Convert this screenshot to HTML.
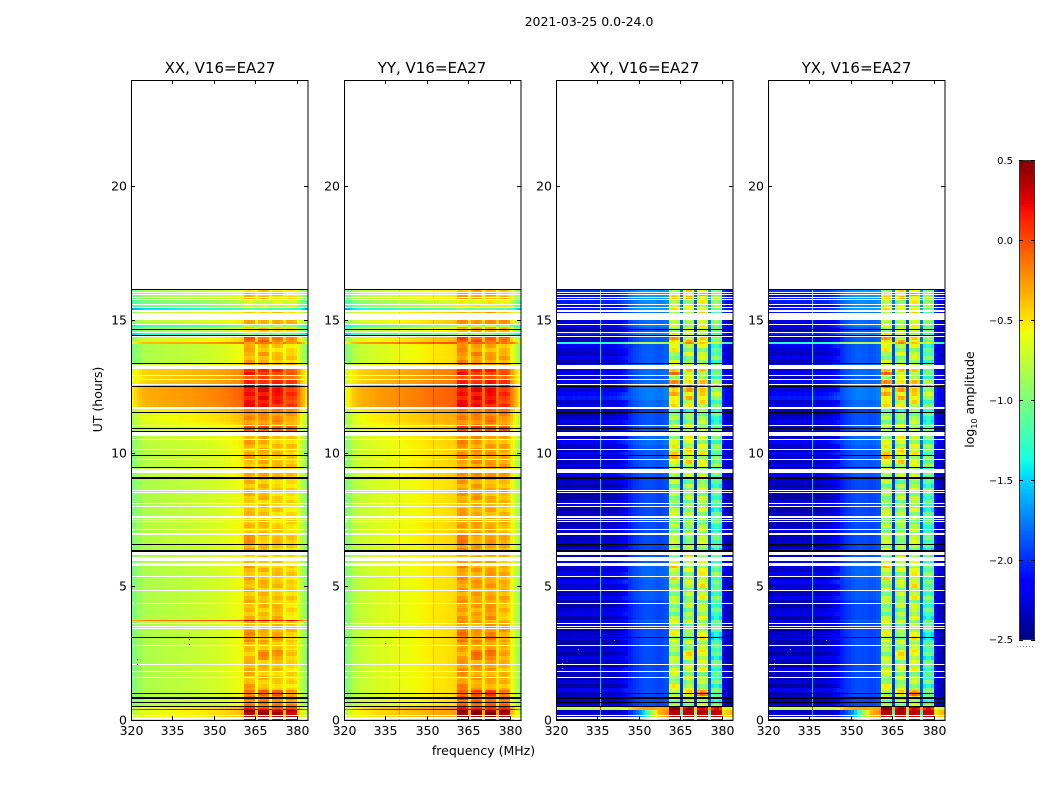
<!DOCTYPE html>
<html lang="en">
<head>
<meta charset="utf-8">
<title>2021-03-25 0.0-24.0</title>
<style>
html,body{margin:0;padding:0;background:#fff;}
svg{display:block;font-family:"DejaVu Sans","Liberation Sans",sans-serif;fill:#000;}
</style>
</head>
<body>
<svg id="fig" xmlns="http://www.w3.org/2000/svg" width="1050" height="800" viewBox="0 0 1050 800">
  <rect width="1050" height="800" fill="#fff"/>
  <text x="589" y="26" font-size="12.500" text-anchor="middle">2021-03-25 0.0-24.0</text>
  <text x="220" y="73" font-size="15" text-anchor="middle">XX, V16=EA27</text>
  <text x="432" y="73" font-size="15" text-anchor="middle">YY, V16=EA27</text>
  <text x="644.500" y="73" font-size="15" text-anchor="middle">XY, V16=EA27</text>
  <text x="856.500" y="73" font-size="15" text-anchor="middle">YX, V16=EA27</text>
  <text x="483.500" y="755" font-size="12.500" text-anchor="middle">frequency (MHz)</text>
  <text transform="translate(102,399.500) rotate(-90)" font-size="12.500" text-anchor="middle">UT (hours)</text>
  <text transform="translate(974,399.500) rotate(-90)" font-size="12.500" text-anchor="middle">log<tspan font-size="8" dy="3">10</tspan><tspan dy="-3"> amplitude</tspan></text>
  <g id="panels"></g>
  <g id="colorbar"></g>
</svg>
<script>
// Frequency channels (MHz, first edge of each 1 MHz channel)
const firstChannel = 320;
// Baseline log10 amplitude per channel, one array per polarisation
const specXX = [-1.02,-.96,-.91,-.88,-.84,-.82,-.81,-.81,-.8,-.8,-.79,-.79,-.78,-.78,-.77,-.77,-.77,-.76,-.76,-.75,-.75,-.75,-.74,-.73,-.73,-.72,-.72,-.71,-.7,-.7,-.69,-.68,-.67,-.66,-.65,-.64,-.62,-.61,-.6,-.58,-.55,-.41,-.39,-.41,-.43,-.58,-.45,-.41,-.41,-.45,-.6,-.47,-.43,-.43,-.47,-.58,-.49,-.47,-.47,-.52,-.64,-.75,-.85,-.98];
const specYY = [-1.0,-.95,-.88,-.82,-.78,-.75,-.73,-.72,-.71,-.7,-.69,-.68,-.67,-.66,-.65,-.65,-.64,-.63,-.63,-.62,-.62,-.61,-.6,-.59,-.58,-.57,-.57,-.56,-.55,-.54,-.53,-.52,-.52,-.51,-.5,-.5,-.49,-.48,-.48,-.47,-.46,-.32,-.3,-.32,-.36,-.5,-.37,-.32,-.32,-.36,-.52,-.36,-.32,-.32,-.36,-.5,-.39,-.36,-.36,-.42,-.56,-.66,-.78,-.92];
const specXY = [-2.28,-2.3,-2.28,-2.3,-2.32,-2.3,-2.28,-2.3,-2.28,-2.3,-2.28,-2.3,-2.28,-2.28,-2.3,-2.3,-2.28,-2.28,-2.28,-2.26,-2.26,-2.26,-2.22,-2.2,-2.16,-2.12,-2.05,-2.02,-1.98,-1.96,-1.93,-1.91,-1.9,-1.9,-1.9,-1.91,-1.93,-1.93,-1.92,-1.9,-1.88,-.92,-.85,-.9,-1.0,-2.0,-1.05,-.9,-.85,-1.0,-2.05,-.92,-.82,-.82,-.92,-1.9,-1.25,-1.12,-1.12,-1.28,-2.2,-2.3,-2.35,-2.35];
const specYX = [-2.3,-2.3,-2.3,-2.28,-2.3,-2.3,-2.3,-2.28,-2.3,-2.28,-2.3,-2.28,-2.3,-2.28,-2.3,-2.3,-2.28,-2.3,-2.28,-2.28,-2.26,-2.26,-2.22,-2.2,-2.16,-2.12,-2.05,-2.02,-1.98,-1.96,-1.93,-1.91,-1.9,-1.9,-1.91,-1.91,-1.93,-1.93,-1.92,-1.9,-1.88,-.92,-.85,-.9,-1.0,-2.0,-1.05,-.9,-.85,-1.0,-2.05,-.92,-.82,-.82,-.92,-1.9,-1.25,-1.12,-1.12,-1.28,-2.2,-2.3,-2.35,-2.35];
// Cross-hand spectrum in the bottom-most (0.0-0.36 h) scan
const crossBottom = [-2.3,-2.3,-2.3,-2.3,-2.3,-2.3,-2.3,-2.3,-2.3,-2.3,-2.3,-2.3,-2.3,-2.3,-2.3,-2.3,-2.3,-2.3,-2.3,-2.3,-2.3,-2.3,-2.3,-2.3,-2.2,-2.2,-2.0,-2.0,-1.9,-1.8,-1.7,-1.5,-1.3,-1.1,-.9,-.7,-.5,-.35,-.3,-.25,-.2,.35,.38,.38,.32,-1.2,.3,.38,.38,.3,-1.0,.3,.36,.36,.3,-1.3,.3,.34,.34,.3,-.5,-.45,-.4,-.35];
// Narrow single-frequency spurs (one pixel wide)
const spurPanel = [1,1,2,3];
const spurFreq = [340,352,336,336];
const spurValue = [-.38,-.36,-1.55,-1.55];
// Start channels of the four bright receiver bands
const bandStart = [361,366,371,376];
// Time segments: upper edge of each scan block in UT hours (descending)
const segTop = [16.13,15.79,15.46,15.34,15.0,14.81,14.74,14.52,14.36,14.16,14.10,13.80,13.35,13.16,12.94,12.75,12.56,12.48,12.0,11.66,11.51,11.18,11.03,10.81,10.65,10.31,9.53,9.26,9.04,8.25,7.5,6.94,6.56,6.30,5.81,5.25,4.5,3.75,3.71,3.38,2.93,2.63,2.25,1.80,1.50,1.13,0.79,0.47,0.43,0.36];
// Per-segment gain added to all channels
const parGainXX = [-.05,-.2,-.65,.05,.05,-.4,-.08,-.5,.12,.45,0,0,.08,.38,.36,.38,.38,.5,.48,.25,.2,.16,.1,.08,.05,.03,.03,.05,0,0,.02,.02,0,0,0,0,0,.65,0,0,0,0,0,0,0,0,0,.25,1.0,.2];
const parGainYY = [-.05,-.2,-.65,.05,.05,-.4,-.06,-.5,.1,.45,0,0,.08,.3,.28,.3,.3,.4,.4,.2,.15,.12,.08,.06,.04,.03,.03,.05,0,0,.02,.02,0,0,0,0,0,-.02,0,0,0,0,0,0,0,0,0,.25,.9,.2];
const crossGain = [.25,.2,.25,.15,.1,.15,.05,.2,.05,1.1,.05,.05,.1,.1,.05,.1,.3,.15,.1,-.05,.02,.02,.05,.05,.1,.05,.05,.05,0,0,0,0,0,.05,.08,.05,0,.1,0,0,0,0,0,0,0,0,0,1.6,1.6,0];
// Per-segment extra gain on each of the four bands
const parBand = [[.05,.05,.05,.05],[0,0,0,0],[-.1,-.1,-.1,-.1],[0,0,0,0],[.05,.05,.05,.05],[0,0,0,0],[.05,.05,.05,.05],[0,0,0,0],[.25,.2,.15,.1],[-.25,-.25,-.25,-.25],[.05,.05,0,0],[.1,.1,.05,.05],[.05,.05,.05,.05],[.15,.15,.12,.05],[.05,.05,.03,.03],[.15,.15,.15,.1],[.25,.25,.15,.2],[.1,.12,.12,.05],[.08,.1,.08,.05],[0,0,0,0],[-.03,0,.03,0],[0,0,0,0],[.25,.25,.25,.25],[.05,.05,.05,.05],[.05,.05,0,0],[.03,.03,.03,.03],[.08,.08,.05,.05],[.03,.03,.03,.03],[.03,.05,0,0],[0,0,0,0],[0,.03,0,0],[.15,0,.03,.03],[.08,.05,.05,.05],[0,0,0,0],[.08,.03,.05,.03],[.03,.05,.03,.03],[.05,.03,.08,0],[0,0,0,0],[.05,.05,.08,.05],[.18,.08,.15,.08],[.03,.03,.03,0],[0,.2,.2,.08],[.08,.03,.03,0],[.03,.03,.03,.03],[.12,.03,0,0],[.25,.3,.35,.2],[.25,.25,.25,.25],[.2,.2,.2,.2],[-.3,-.3,-.3,-.3],[.6,.6,.6,.6]];
const crossBand = [[0,.1,.1,0],[0,0,0,0],[0,0,0,0],[.1,.1,.1,0],[0,0,0,0],[0,0,0,0],[.05,.05,.05,0],[0,0,0,0],[.55,.3,.25,0],[-.6,-.6,-.6,-.6],[.1,0,0,-.05],[.05,0,0,0],[0,0,0,0],[.5,.3,.1,0],[.1,.1,0,0],[.5,.35,.2,.05],[.8,.7,.6,.5],[.4,.3,.2,.2],[.1,.1,.1,0],[-.1,-.1,-.1,-.1],[-.05,-.05,-.05,-.05],[0,0,0,0],[0,0,0,0],[0,0,0,0],[0,.1,0,0],[.3,.2,.1,.1],[.1,.1,0,.05],[0,0,0,0],[0,0,.05,0],[0,0,0,0],[0,0,0,0],[.1,0,.05,0],[.05,0,0,0],[0,0,0,0],[.2,0,.1,0],[0,0,.1,0],[0,0,.05,0],[0,0,0,0],[.05,0,0,0],[.2,0,.2,-.1],[0,0,0,0],[0,.3,.2,0],[.1,.1,.1,0],[0,0,0,0],[.2,.1,0,0],[.1,.3,.5,.1],[0,0,0,0],[-.3,-.3,-.3,-.3],[-.3,-.3,-.3,-.3],[0,0,0,0]];
// Fine striping seen in each band, read down the panel every four pixels
const stripeBand1 = [.05,-.08,.1,.02,-.1,.06,.12,-.04,-.12,.08,.03,-.06,.1,-.1,.04,.09,-.07,.02,-.12,.07,.11,-.05,-.02,.08,-.09,.04,.01];
const stripeBand2 = [-.05,.08,.02,-.1,.1,.04,-.06,.12,-.08,-.02,.09,.05,-.11,.07,-.04,.01,.1,-.09,.06,-.03,.08,-.12,.05,.02,-.07,.11,-.02];
const stripeBand3 = [.08,.02,-.09,.06,-.03,.11,-.1,.04,.07,-.06,.01,.12,-.08,-.02,.09,-.11,.05,.03,-.04,.1,-.07,.06,-.1,.02,.08,-.05,.04];
const stripeBand4 = [-.02,.06,-.1,.09,.03,-.07,.05,-.03,.1,-.09,.07,-.01,.04,-.08,.11,.02,-.06,.08,-.04,-.1,.06,.03,.09,-.05,-.08,.02,.07];
// Row-to-row ripple in the faint left part of the cross-hand panels
const crossRipple = [0,-.12,.05,-.06,-.12,.08,-.04,-.1,.03,-.12,.1,-.05,0,-.1,.06,-.07,-.12,.02,.08,-.1,-.03,.04,-.12,-.02,.06,-.09,-.05];
// Fully flagged (white) scans, UT hours
const flagFrom = [16.01,15.93,15.85,15.74,15.56,15.46,15.31,15.00,14.81,14.52,14.35,13.17,12.90,12.75,12.55,11.66,11.03,10.65,10.49,10.13,9.75,9.25,8.59,8.50,8.10,8.00,7.58,7.50,7.44,7.13,6.95,6.19,5.96,5.79,5.36,4.85,4.35,3.60,3.49,3.40,2.79,2.06,1.80,1.58,0.18,0.10,0.04];
const flagTo = [16.04,15.96,15.88,15.78,15.60,15.50,15.38,15.26,14.84,14.56,14.43,13.31,12.94,12.78,12.60,11.75,11.05,10.80,10.53,10.16,9.78,9.41,8.63,8.55,8.13,8.03,7.65,7.53,7.46,7.15,7.02,6.31,6.10,5.89,5.39,4.88,4.38,3.65,3.53,3.44,2.81,2.09,1.83,1.60,0.20,0.12,0.06];
// Zero-amplitude (black) scans, UT hours
const blackFrom = [16.12,14.61,14.42,13.35,12.48,11.51,10.91,10.81,9.90,9.45,9.04,6.56,6.30,3.08,0.98,0.79,0.64,0.47];
const blackTo = [16.16,14.65,14.45,13.39,12.53,11.56,10.95,10.85,9.94,9.49,9.10,6.60,6.38,3.11,1.01,0.86,0.68,0.51];
// Isolated bright pixels
const speckPanel = [0,0,0,0,0,2,2,2,2,2,3,3,3,3,3,1];
const speckFreq = [322,322,341,341,341,322,322,322,341,328,322,322,322,341,328,335];
const speckUT = [2.3,2.1,3.05,2.85,3.25,2.3,2.15,1.95,3.0,2.65,2.3,2.15,1.95,3.0,2.65,2.9];
const speckVal = [-2.5,-2.5,-2.5,-2.5,-.4,.2,-.2,-.2,-.3,-1.4,.2,-.2,-.2,-.3,-1.4,.3];
// Axis ticks
const xTicks = [320,335,350,365,380];
const yTicks = [0,5,10,15,20];
const cbTicks = [0.5,0,-0.5,-1,-1.5,-2,-2.5];
const cbLabels = ['0.5','0.0','\u22120.5','\u22121.0','\u22121.5','\u22122.0','\u22122.5'];

const NS = 'http://www.w3.org/2000/svg';
const panelLeft = [131,344,556,768];
const panelWidth = 177, plotTop = 80, plotBottom = 720;
const FMIN = 320, FMAX = 384, UTMAX = 24, VMIN = -2.5, VMAX = 0.5;
const stripes = [stripeBand1, stripeBand2, stripeBand3, stripeBand4];
const SLICE = 4;

function xScale(p, f) { return panelLeft[p] + (f - FMIN) * panelWidth / (FMAX - FMIN); }
function yScale(h) { return plotBottom - h * (plotBottom - plotTop) / UTMAX; }
function lerpTable(t, xs, ys) {
  if (t <= xs[0]) return ys[0];
  for (let i = 1; i < xs.length; i++) {
    if (t <= xs[i]) return ys[i - 1] + (ys[i] - ys[i - 1]) * (t - xs[i - 1]) / (xs[i] - xs[i - 1]);
  }
  return ys[ys.length - 1];
}
function jet(t) {
  t = Math.max(0, Math.min(1, t));
  const r = lerpTable(t, [0,.35,.66,.89,1], [0,0,1,1,.5]);
  const g = lerpTable(t, [0,.125,.375,.64,.91,1], [0,0,1,1,0,0]);
  const b = lerpTable(t, [0,.11,.34,.65,1], [.5,1,1,0,0]);
  return 'rgb(' + Math.round(r * 255) + ',' + Math.round(g * 255) + ',' + Math.round(b * 255) + ')';
}
function colorOf(v) { return jet((v - VMIN) / (VMAX - VMIN)); }
function mk(tag, parent) { const el = document.createElementNS(NS, tag); parent.appendChild(el); return el; }
function bandOf(ch) {
  for (let i = 0; i < bandStart.length; i++) { if (ch >= bandStart[i] && ch < bandStart[i] + 4) return i; }
  return -1;
}
function cellValue(p, s, c, sl) {
  const ch = firstChannel + c, b = bandOf(ch);
  if (p >= 2) {
    if (s === segTop.length - 1) return crossBottom[c];
    const spec = p === 2 ? specXY : specYX;
    let v = spec[c] + crossGain[s];
    if (b >= 0) v += crossBand[s][b] + 2 * stripes[b][sl];
    else if (ch < 346) v += crossRipple[sl];
    return v;
  }
  const spec = p === 0 ? specXX : specYY;
  const gain = p === 0 ? parGainXX : parGainYY;
  return spec[c] + gain[s] + (b >= 0 ? parBand[s][b] + 0.7 * stripes[b][sl] : 0);
}

const panelsG = document.getElementById('panels');
const polNames = ['xx','yy','xy','yx'];
for (let p = 0; p < 4; p++) {
  const g = mk('g', panelsG);
  
  
  const bg = mk('rect', g);
  
  
  bg.setAttribute('x', panelLeft[p]); bg.setAttribute('y', plotTop);
  bg.setAttribute('width', panelWidth); bg.setAttribute('height', plotBottom - plotTop);
  bg.setAttribute('fill', '#fff');
  const cells = mk('g', g);
  
  
  cells.setAttribute('shape-rendering', 'crispEdges');
  // heatmap cells
  for (let s = 0; s < segTop.length; s++) {
    const y0 = Math.round(yScale(segTop[s]));
    const y1 = Math.round(yScale(s + 1 < segTop.length ? segTop[s + 1] : 0));
    let y = y0;
    while (y < y1) {
      const h = Math.min(SLICE - (y % SLICE), y1 - y);
      const sl = Math.floor(y / SLICE) % stripeBand1.length;
      for (let c = 0; c < specXX.length; c++) {
        const x0 = Math.round(xScale(p, firstChannel + c));
        const x1 = Math.round(xScale(p, firstChannel + c + 1));
        const r = mk('rect', cells);
        
        
        r.setAttribute('x', x0); r.setAttribute('y', y);
        r.setAttribute('width', x1 - x0); r.setAttribute('height', h);
        r.setAttribute('fill', colorOf(cellValue(p, s, c, sl)));
      }
      y += h;
    }
    // one-pixel spurs
    for (let k = 0; k < spurPanel.length; k++) {
      if (spurPanel[k] !== p) continue;
      const r = mk('rect', cells);
      const rowGain = p >= 2 ? crossGain[s] : parGainYY[s];
      
      
      r.setAttribute('x', Math.round(xScale(p, spurFreq[k]))); r.setAttribute('y', y0);
      r.setAttribute('width', 1); r.setAttribute('height', y1 - y0);
      r.setAttribute('fill', colorOf(spurValue[k] + rowGain));
    }
  }
  // flagged scans
  for (let i = 0; i < flagFrom.length; i++) {
    const yt = Math.round(yScale(flagTo[i]));
    const h = Math.max(1, Math.round(yScale(flagFrom[i])) - yt);
    const r = mk('rect', cells);
    
    
    r.setAttribute('x', panelLeft[p]); r.setAttribute('y', yt);
    r.setAttribute('width', panelWidth); r.setAttribute('height', h);
    r.setAttribute('fill', '#fff');
  }
  // zero scans
  for (let i = 0; i < blackFrom.length; i++) {
    const yt = Math.round(yScale(blackTo[i]));
    const h = Math.max(1, Math.round(yScale(blackFrom[i])) - yt);
    const r = mk('rect', cells);
    
    
    r.setAttribute('x', panelLeft[p]); r.setAttribute('y', yt);
    r.setAttribute('width', panelWidth); r.setAttribute('height', h);
    r.setAttribute('fill', '#000');
  }
  // specks
  for (let i = 0; i < speckPanel.length; i++) {
    if (speckPanel[i] !== p) continue;
    const r = mk('rect', cells);
    
    
    r.setAttribute('x', Math.round(xScale(p, speckFreq[i]))); r.setAttribute('y', Math.round(yScale(speckUT[i])));
    r.setAttribute('width', 1); r.setAttribute('height', 1);
    r.setAttribute('fill', colorOf(speckVal[i]));
  }
  // frame
  const frame = mk('rect', g);
  
  
  frame.setAttribute('x', panelLeft[p] + 0.5); frame.setAttribute('y', plotTop + 0.5);
  frame.setAttribute('width', panelWidth - 0.5); frame.setAttribute('height', plotBottom - plotTop);
  frame.setAttribute('fill', 'none'); frame.setAttribute('stroke', '#000'); frame.setAttribute('stroke-width', '1');
  // x ticks
  xTicks.forEach(function (t) {
    const x = Math.round(xScale(p, t)) + 0.5;
    [[plotBottom, plotBottom - 4], [plotTop, plotTop + 4]].forEach(function (e) {
      const l = mk('line', g);
      
      
      l.setAttribute('x1', x); l.setAttribute('x2', x); l.setAttribute('y1', e[0]); l.setAttribute('y2', e[1]);
      l.setAttribute('stroke', '#000');
    });
    const lb = mk('text', g);
    
    
    lb.setAttribute('x', x); lb.setAttribute('y', 735); lb.setAttribute('font-size', 12.5); lb.setAttribute('text-anchor', 'middle');
    lb.textContent = t;
  });
  // y ticks
  yTicks.forEach(function (t) {
    const y = Math.floor(yScale(t)) + 0.5;
    [[panelLeft[p], panelLeft[p] + 4], [panelLeft[p] + panelWidth, panelLeft[p] + panelWidth - 4]].forEach(function (e) {
      const l = mk('line', g);
      
      
      l.setAttribute('x1', e[0]); l.setAttribute('x2', e[1]); l.setAttribute('y1', y); l.setAttribute('y2', y);
      l.setAttribute('stroke', '#000');
    });
    const lb = mk('text', g);
    
    
    lb.setAttribute('x', panelLeft[p] - 4); lb.setAttribute('y', y + 4); lb.setAttribute('font-size', 12.5); lb.setAttribute('text-anchor', 'end');
    lb.textContent = t;
  });
}

// colorbar
const cb = document.getElementById('colorbar');
const cbLeft = 1019, cbWidth = 16, cbTop = 160, cbBottom = 640;
function cbY(v) { return cbBottom - (v - VMIN) * (cbBottom - cbTop) / (VMAX - VMIN); }
const cbCells = mk('g', cb);


cbCells.setAttribute('shape-rendering', 'crispEdges');
for (let i = 0; i < 256; i++) {
  const v0 = VMIN + (VMAX - VMIN) * i / 256, v1 = VMIN + (VMAX - VMIN) * (i + 1) / 256;
  const r = mk('rect', cbCells);
  
  
  r.setAttribute('x', cbLeft); r.setAttribute('width', cbWidth);
  r.setAttribute('y', Math.floor(cbY(v1))); r.setAttribute('height', Math.ceil(cbY(v0)) - Math.floor(cbY(v1)));
  r.setAttribute('fill', jet((i + 0.5) / 256));
}
const cbFrame = mk('rect', cb);


cbFrame.setAttribute('x', cbLeft + 0.5); cbFrame.setAttribute('y', cbTop + 0.5);
cbFrame.setAttribute('width', cbWidth - 1); cbFrame.setAttribute('height', cbBottom - cbTop - 1);
cbFrame.setAttribute('fill', 'none'); cbFrame.setAttribute('stroke', '#333');
cbTicks.forEach(function (v, i) {
  const y = Math.round(cbY(v)) + 0.5;
  [[cbLeft, cbLeft + 4], [cbLeft + cbWidth, cbLeft + cbWidth - 4]].forEach(function (e) {
    const l = mk('line', cb);
    
    
    l.setAttribute('x1', e[0]); l.setAttribute('x2', e[1]); l.setAttribute('y1', y); l.setAttribute('y2', y);
    l.setAttribute('stroke', '#000');
  });
  const lb = mk('text', cb);
  
  
  lb.setAttribute('x', 1013); lb.setAttribute('y', Math.min(y + 3.5, 643)); lb.setAttribute('font-size', 10); lb.setAttribute('text-anchor', 'end');
  lb.textContent = cbLabels[i];
});
const dots = mk('line', cb);


dots.setAttribute('x1', 1017); dots.setAttribute('x2', 1035); dots.setAttribute('y1', 646.5); dots.setAttribute('y2', 646.5);
dots.setAttribute('stroke', '#888'); dots.setAttribute('stroke-dasharray', '1 2');
</script>
</body>
</html>
